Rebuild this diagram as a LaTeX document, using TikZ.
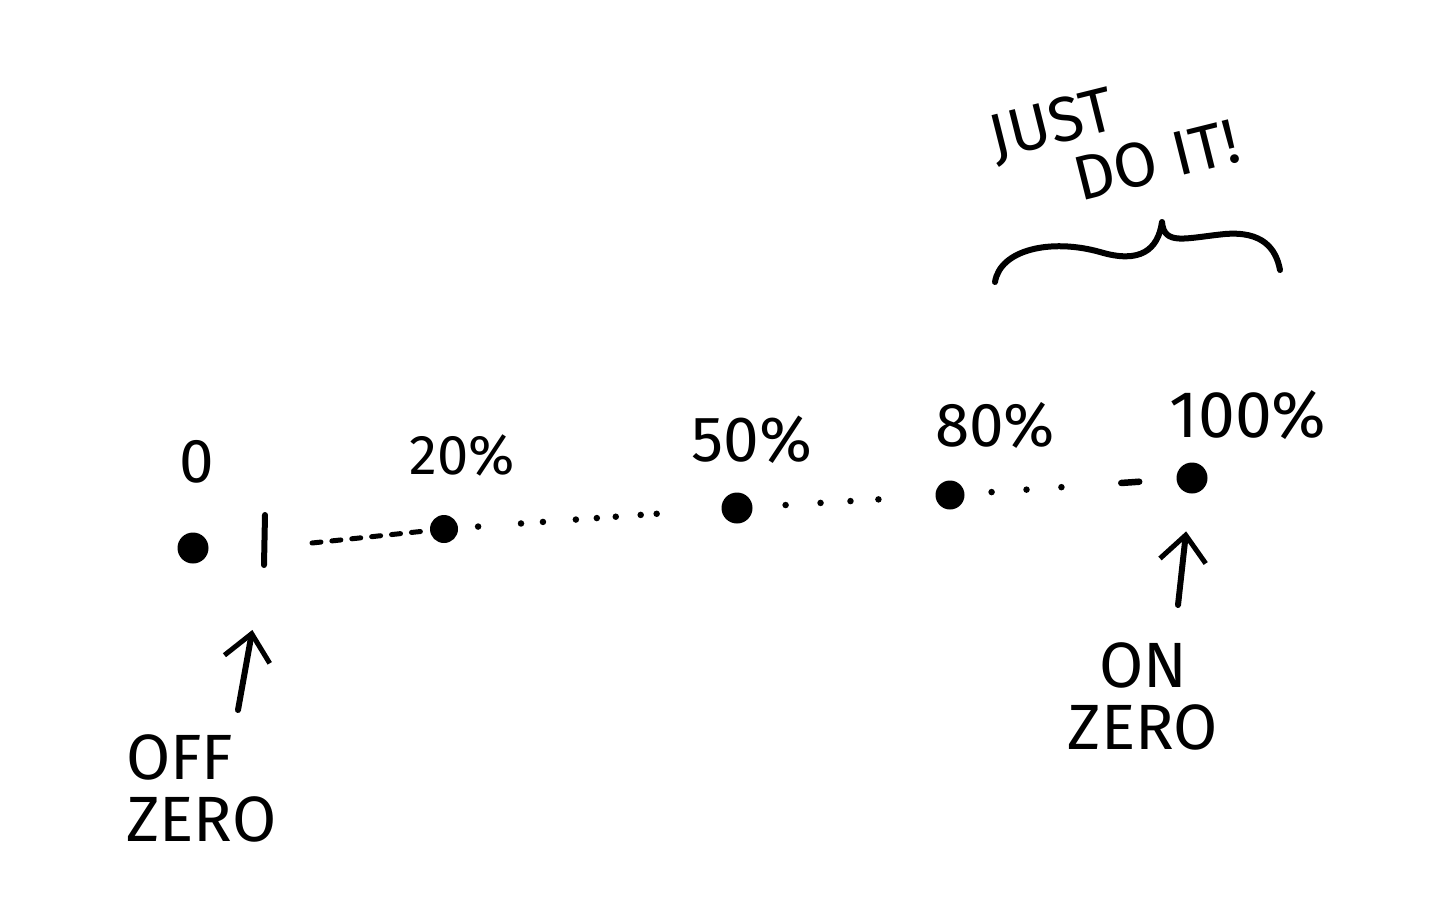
\documentclass[tikz,border=0pt]{standalone}
\usepackage{fontspec}
\setmainfont{Fira Sans}
\usetikzlibrary{arrows.meta}
\begin{document}
\begin{tikzpicture}[x=1pt,y=-1pt,
  ink/.style={line width=6pt, line cap=round, line join=round, black},
  blob/.style={circle, fill=black, inner sep=0pt, minimum size=#1},
  lbl/.style={font=\fontsize{#1}{#1}\selectfont, inner sep=0pt, text=black},
  lbl/.default=60,
  dashlink/.style={line width=5pt, line cap=round, dash pattern=on 9pt off 11pt},
  dotlink/.style={line width=6.5pt, line cap=round},
  arr/.style={ink, -{Straight Barb[length=26pt,width=46pt,line width=5pt]}}
]
\useasboundingbox (0,0) rectangle (1456,922);
\fill[white] (0,0) rectangle (1456,922);

% dots on the scale
\node[blob=31pt] (d0) at (193,548) {};
\node[blob=28pt] (d20) at (444,529) {};
\node[blob=31pt] (d50) at (737,508) {};
\node[blob=29pt] (d80) at (950,495) {};
\node[blob=31pt] (d100) at (1192,478) {};

% tick mark
\coordinate (t1top) at (265,515);
\coordinate (t1bot) at (264,565);
\draw[ink] (t1top) -- (t1bot);
\coordinate (dstart) at (312,543);

% connectors
\draw[dashlink] (dstart) -- (d20);
\draw[dotlink, shorten <=20pt, dash pattern=on 0pt off 43pt on 0pt off 22pt on 0pt off 33pt on 0pt off 21pt on 0pt off 19pt on 0pt off 25pt on 0pt off 16pt on 0pt off 300pt] (d20) -- (d50);
\draw[dotlink, shorten <=33pt, dash pattern=on 0pt off 35pt on 0pt off 30pt on 0pt off 28pt on 0pt off 300pt] (d50) -- (d80);
\draw[dotlink, shorten <=27pt, dash pattern=on 0pt off 35pt on 0pt off 35pt on 0pt off 60pt on 18pt off 300pt] (d80) -- (d100);

% labels
\node[lbl=62] (l0) at (197,462) {0};
\node[lbl=56] (l20) at (462,455) {20\%};
\node[lbl=64] (l50) at (752,440) {50\%};
\node[lbl=62] (l80) at (995,425) {80\%};
\node[lbl=66] (l100) at (1248,415) {100\%};

% arrows and captions
\coordinate (offtail) at (238,710);
\draw[arr, shorten >=66pt] (offtail) -- (t1bot);
\node[lbl=64, align=left, anchor=north west] (offz) at (126,734) {OFF\\[-2pt]ZERO};

\coordinate (ontail) at (1178,605);
\draw[arr, shorten >=38pt] (ontail) -- (d100);
\node[lbl=64, align=center] (onz) at (1143,696) {ON\\[-2pt]ZERO};

% brace and JUST DO IT!
\coordinate (brl) at (995,282);
\coordinate (brm) at (1162,222);
\coordinate (brr) at (1280,270);
\draw[ink] (brl) .. controls (1000,250) and (1050,238) .. (1100,252)
  .. controls (1140,264) and (1158,250) .. (brm)
  .. controls (1164,246) and (1185,238) .. (1225,234)
  .. controls (1262,231) and (1276,248) .. (brr);
\node[lbl=63, rotate=14, align=left] (just) at (1114,139) {JUST\\[-2pt]\hspace*{72pt}DO IT!};
\end{tikzpicture}
\end{document}
